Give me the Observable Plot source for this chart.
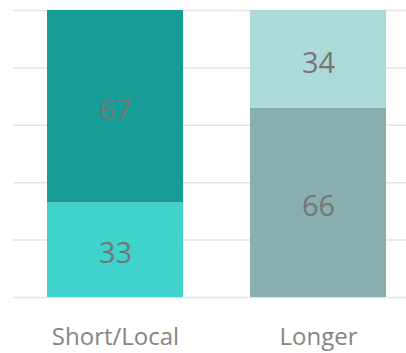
<!DOCTYPE html>
<html>
<head>
<meta charset="utf-8">
<script src="https://cdn.jsdelivr.net/npm/d3@7"></script>
<script src="https://cdn.jsdelivr.net/npm/@observablehq/plot@0.6"></script>
<style>
  html, body { margin: 0; padding: 0; background: #fff; }
  #chart svg { display: block; }
</style>
</head>
<body>
<div id="chart"></div>
<script>
// Trip length categories and the share (%) of each segment
const categories = ["Short/Local", "Longer"];
const segments = ["lower", "upper"];
const lowerValues = [33, 66];
const upperValues = [67, 34];
const gridTicks = [0, 20, 40, 60, 80, 100];

// Fill colour per category and segment
const colorDomain = ["Short/Local|lower", "Short/Local|upper", "Longer|lower", "Longer|upper"];
const colorRange = ["#3fd3cc", "#179d97", "#88afb0", "#acd9d9"];

const rows = [];
categories.forEach((c, i) => {
  rows.push({category: c, segment: "lower", key: c + "|lower", value: lowerValues[i]});
  rows.push({category: c, segment: "upper", key: c + "|upper", value: upperValues[i]});
});

const chart = Plot.plot({
  width: 406,
  height: 353,
  marginTop: 10,
  marginBottom: 56,
  marginLeft: 13,
  marginRight: 0,
  style: {fontFamily: "'Open Sans', 'Noto Sans', sans-serif", background: "#fff"},
  x: {domain: categories, paddingInner: 0.332, paddingOuter: 0.1317, align: 0.634, label: null},
  y: {domain: [0, 100], axis: null},
  color: {domain: colorDomain, range: colorRange},
  marks: [
    Plot.ruleY(gridTicks, {stroke: "#e4e4e4", strokeWidth: 1.5}),
    Plot.barY(rows, {x: "category", y: "value", fill: "key", z: "segment", order: segments}),
    Plot.text(rows, Plot.stackY({
      x: "category", y: "value", text: "value", z: "segment", order: segments,
      fill: "#757575", fontSize: 29, dy: 4
    })),
    Plot.axisX({tickSize: 0, tickPadding: 30, fontSize: 24, color: "#858585", label: null})
  ]
});

document.getElementById("chart").append(chart);
</script>
</body>
</html>
